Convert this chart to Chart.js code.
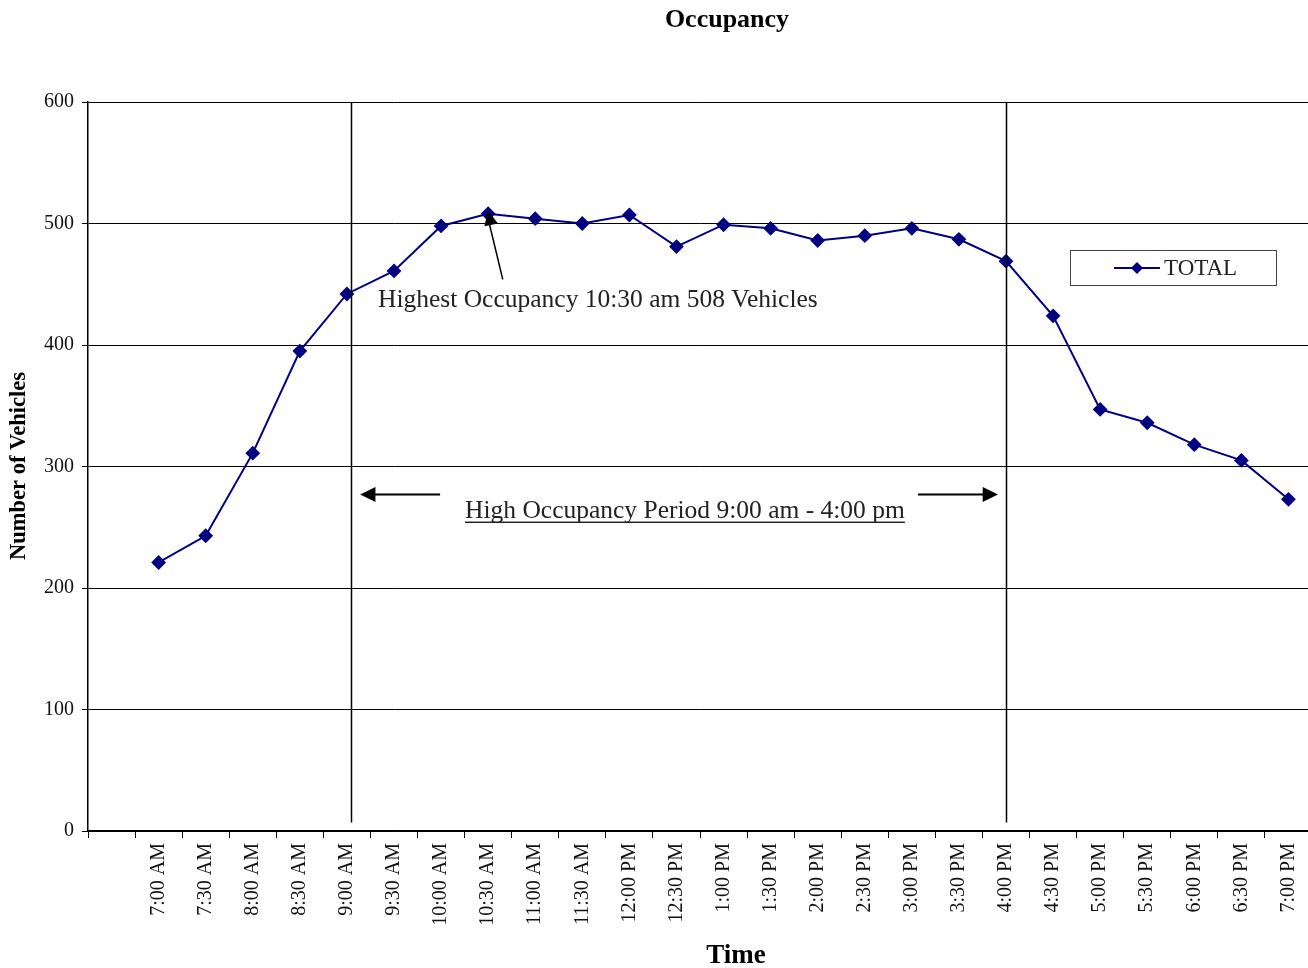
<!DOCTYPE html>
<html>
<head>
<meta charset="utf-8">
<script src="https://cdn.jsdelivr.net/npm/chart.js@4/dist/chart.umd.min.js"></script>
<style>
  html, body { margin: 0; padding: 0; background: #fff; overflow: hidden; }
  #wrap { width: 1308px; height: 968px; overflow: hidden; }
</style>
</head>
<body>
<div id="wrap"><canvas id="chart" width="1320" height="968"></canvas></div>
<script>
// first category is an empty slot, like the original sheet
const times = ['', '7:00 AM', '7:30 AM', '8:00 AM', '8:30 AM', '9:00 AM', '9:30 AM',
  '10:00 AM', '10:30 AM', '11:00 AM', '11:30 AM', '12:00 PM', '12:30 PM',
  '1:00 PM', '1:30 PM', '2:00 PM', '2:30 PM', '3:00 PM', '3:30 PM',
  '4:00 PM', '4:30 PM', '5:00 PM', '5:30 PM', '6:00 PM', '6:30 PM', '7:00 PM'];
const total = [null, 221, 243, 311, 395, 442, 461, 498, 508, 504, 500, 507, 481,
  499, 496, 486, 490, 496, 487, 469, 424, 347, 336, 318, 305, 273];
const yTicks = [0, 100, 200, 300, 400, 500, 600];
const periodStart = '9:00 AM';
const periodEnd = '4:00 PM';
const peakTime = '10:30 AM';

const SERIF = '"Liberation Serif", "Times New Roman", serif';
const NAVY = '#000080';

function arrowHead(ctx, x1, y1, x2, y2, size) {
  const a = Math.atan2(y2 - y1, x2 - x1);
  ctx.beginPath();
  ctx.moveTo(x2, y2);
  ctx.lineTo(x2 - size * Math.cos(a - 0.45), y2 - size * Math.sin(a - 0.45));
  ctx.lineTo(x2 - size * Math.cos(a + 0.45), y2 - size * Math.sin(a + 0.45));
  ctx.closePath();
  ctx.fill();
}

const extras = {
  id: 'extras',
  afterDraw(chart) {
    const { ctx, scales: { x, y }, chartArea } = chart;
    ctx.save();

    // period boundary lines
    ctx.strokeStyle = '#000';
    ctx.lineWidth = 1.5;
    [times.indexOf(periodStart) + 0.08, times.indexOf(periodEnd)].forEach(v => {
      const px = Math.round(x.getPixelForValue(v)) + 0.5;
      ctx.beginPath();
      ctx.moveTo(px, chartArea.top);
      ctx.lineTo(px, y.getPixelForValue(7));
      ctx.stroke();
    });

    // peak annotation
    const pk = times.indexOf(peakTime);
    const tipX = x.getPixelForValue(pk), tipY = y.getPixelForValue(total[pk]) - 3;
    const tailX = x.getPixelForValue(pk + 0.31), tailY = y.getPixelForValue(454);
    ctx.fillStyle = '#000';
    ctx.lineWidth = 1.5;
    ctx.beginPath();
    ctx.moveTo(tailX, tailY);
    ctx.lineTo(tipX, tipY + 8);
    ctx.stroke();
    arrowHead(ctx, tailX, tailY, tipX, tipY, 16);

    ctx.fillStyle = '#222';
    ctx.font = '25.5px ' + SERIF;
    ctx.textAlign = 'left';
    ctx.textBaseline = 'alphabetic';
    ctx.fillText('Highest Occupancy 10:30 am 508 Vehicles', x.getPixelForValue(5.66), y.getPixelForValue(431));

    // high occupancy period label
    const label = 'High Occupancy Period 9:00 am - 4:00 pm';
    const cx = x.getPixelForValue(12.18);
    const by = y.getPixelForValue(258);
    ctx.textAlign = 'center';
    ctx.fillText(label, cx, by);
    const w = ctx.measureText(label).width;
    ctx.fillRect(cx - w / 2, by + 4, w, 1.5);

    // period arrows
    const ay = Math.round(y.getPixelForValue(277)) + 0.5;
    ctx.fillStyle = '#000';
    ctx.lineWidth = 2;
    const lA = x.getPixelForValue(6.98), lB = x.getPixelForValue(5.28);
    const rA = x.getPixelForValue(17.13), rB = x.getPixelForValue(18.83);
    ctx.beginPath(); ctx.moveTo(lA, ay); ctx.lineTo(lB + 10, ay); ctx.stroke();
    arrowHead(ctx, lA, ay, lB, ay, 17);
    ctx.beginPath(); ctx.moveTo(rA, ay); ctx.lineTo(rB - 10, ay); ctx.stroke();
    arrowHead(ctx, rA, ay, rB, ay, 17);

    // legend box
    ctx.strokeStyle = '#444';
    ctx.lineWidth = 1;
    ctx.strokeRect(1070.5, 250.5, 206, 35);
    ctx.strokeStyle = NAVY;
    ctx.lineWidth = 2;
    ctx.beginPath(); ctx.moveTo(1114, 268); ctx.lineTo(1160, 268); ctx.stroke();
    ctx.fillStyle = NAVY;
    ctx.beginPath();
    ctx.moveTo(1137, 262); ctx.lineTo(1143, 268); ctx.lineTo(1137, 274); ctx.lineTo(1131, 268);
    ctx.closePath(); ctx.fill();
    ctx.fillStyle = '#222';
    ctx.font = '23px ' + SERIF;
    ctx.textAlign = 'left';
    ctx.textBaseline = 'middle';
    ctx.fillText(chart.data.datasets[0].label, 1164, 269);

    // titles
    ctx.fillStyle = '#000';
    ctx.font = 'bold 26px ' + SERIF;
    ctx.textAlign = 'center';
    ctx.textBaseline = 'middle';
    ctx.fillText('Occupancy', 727, 20);
    ctx.font = 'bold 27px ' + SERIF;
    ctx.fillText('Time', 736, 956);
    ctx.translate(19, 466);
    ctx.rotate(-Math.PI / 2);
    ctx.font = 'bold 22.5px ' + SERIF;
    ctx.fillText('Number of Vehicles', 0, 0);

    ctx.restore();
  }
};

new Chart(document.getElementById('chart'), {
  type: 'line',
  data: {
    labels: times,
    datasets: [{
      label: 'TOTAL',
      data: total,
      borderColor: NAVY,
      backgroundColor: NAVY,
      borderWidth: 2,
      pointStyle: 'rectRot',
      pointRadius: 6,
      pointHoverRadius: 6,
      tension: 0,
      spanGaps: false
    }]
  },
  options: {
    responsive: false,
    animation: false,
    events: [],
    layout: { padding: { left: 0, top: 102, right: -4, bottom: 0 } },
    plugins: {
      legend: { display: false },
      title: { display: false },
      tooltip: { enabled: false }
    },
    scales: {
      x: {
        offset: true,
        grid: {
          offset: true,
          drawOnChartArea: false,
          color: '#000',
          tickLength: 7,
          tickColor: '#000'
        },
        border: { color: '#000', width: 1.5 },
        ticks: {
          autoSkip: false,
          minRotation: 90,
          maxRotation: 90,
          padding: 5,
          color: '#111',
          font: { family: SERIF, size: 20 }
        },
        afterFit(s) { s.height = 137; }
      },
      y: {
        min: 0,
        max: 600,
        afterBuildTicks(s) { s.ticks = yTicks.map(v => ({ value: v })); },
        grid: {
          color: '#000',
          lineWidth: 1,
          tickLength: 6,
          tickColor: '#000'
        },
        border: { color: '#000', width: 1.5 },
        ticks: {
          padding: 8,
          color: '#111',
          font: { family: SERIF, size: 20 }
        },
        afterFit(s) { s.width = 88; }
      }
    }
  },
  plugins: [extras]
});
</script>
</body>
</html>
